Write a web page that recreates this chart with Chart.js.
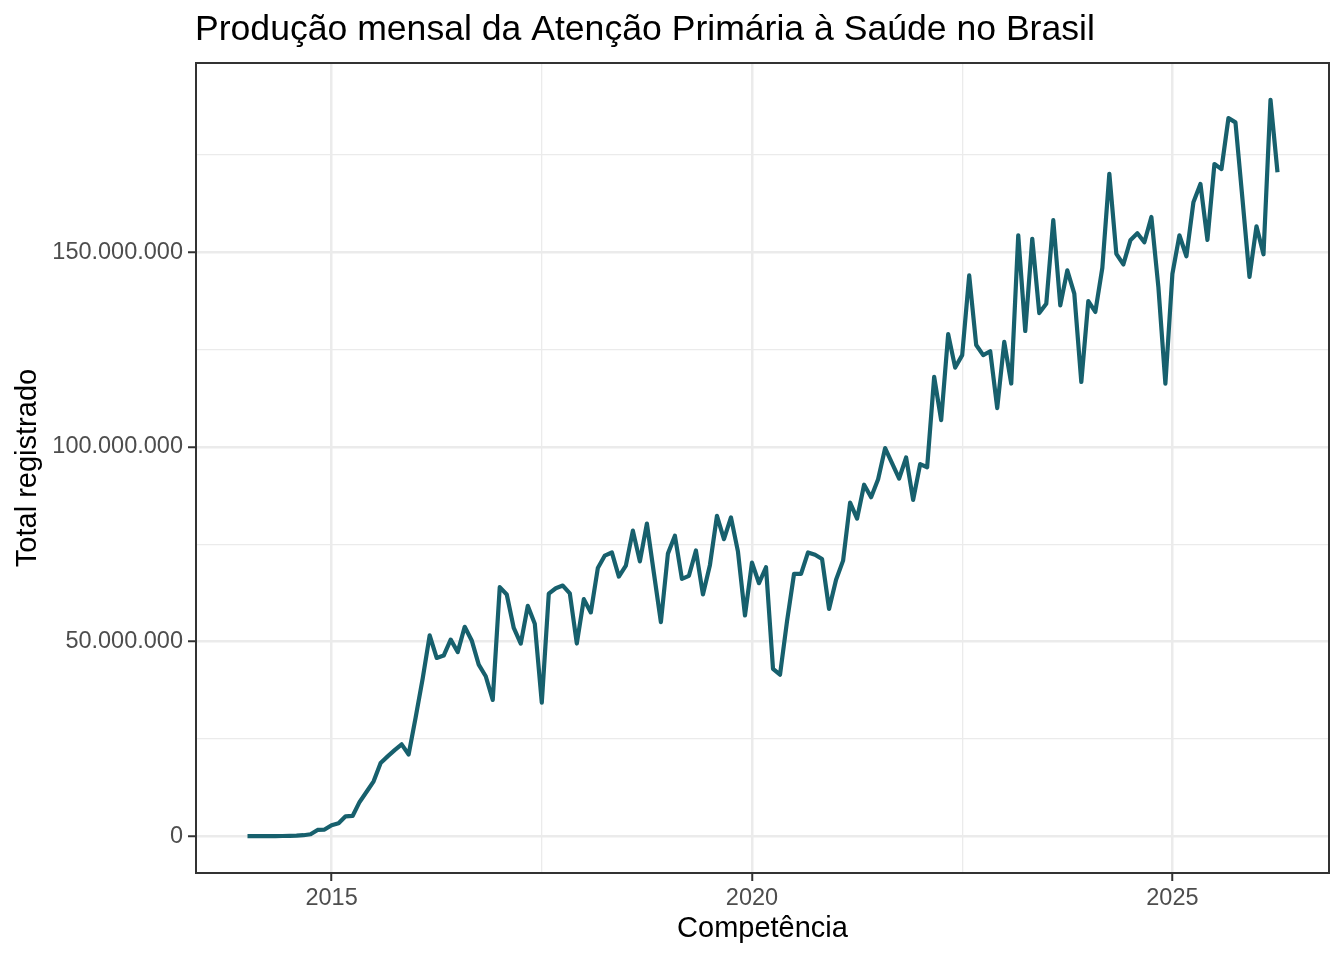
<!DOCTYPE html>
<html>
<head>
<meta charset="utf-8">
<script src="https://cdn.jsdelivr.net/npm/chart.js@4.4.1/dist/chart.umd.min.js"></script>
<style>
  html, body { margin: 0; padding: 0; background: #ffffff; }
  canvas { display: block; }
</style>
</head>
<body>
<canvas id="chart" width="1344" height="960"></canvas>
<script>
// ---------- text ----------
const titleText = 'Produção mensal da Atenção Primária à Saúde no Brasil';
const xAxisTitle = 'Competência';
const yAxisTitle = 'Total registrado';

// ---------- data (monthly totals, in millions) ----------
const startYear = 2014;
const values2014 = [0, 0, 0.01, 0.02, 0.03, 0.05, 0.08, 0.12, 0.25, 0.5, 1.6, 1.7];
const values2015 = [2.8, 3.3, 5.1, 5.2, 8.8, 11.4, 14.1, 18.8, 20.5, 22.1, 23.6, 21.0];
const values2016 = [30.5, 40.5, 51.6, 45.8, 46.4, 50.5, 47.3, 53.8, 50.3, 44.1, 41.1, 35.0];
const values2017 = [64.0, 62.1, 53.5, 49.5, 59.2, 54.6, 34.3, 62.3, 63.7, 64.4, 62.4, 49.5];
const values2018 = [60.9, 57.5, 68.9, 72.1, 72.9, 66.7, 69.5, 78.5, 70.6, 80.3, 67.6, 55.0];
const values2019 = [72.6, 77.2, 66.1, 66.9, 73.4, 62.1, 69.7, 82.3, 76.3, 81.9, 73.1, 56.7];
const values2020 = [70.3, 65.0, 69.1, 43.0, 41.5, 55.2, 67.4, 67.4, 72.9, 72.3, 71.2, 58.4];
const values2021 = [65.9, 70.8, 85.7, 81.6, 90.3, 87.1, 91.7, 99.7, 95.8, 91.9, 97.3, 86.4];
const values2022 = [95.6, 94.8, 118.0, 106.9, 129.0, 120.4, 123.6, 144.1, 126.2, 123.6, 124.6, 110.0];
const values2023 = [127.0, 116.3, 154.4, 129.8, 153.5, 134.4, 136.8, 158.3, 136.4, 145.4, 139.4, 116.7];
const values2024 = [137.5, 134.7, 146.0, 170.2, 149.6, 146.9, 153.1, 154.9, 152.6, 159.1, 141.1, 116.3];
const values2025 = [144.5, 154.4, 149.0, 162.9, 167.6, 153.2, 172.7, 171.4, 184.5, 183.4, 163.7, 143.7];
const values2026 = [156.7, 149.5, 189.2, 170.6];

const monthlyMillions = [].concat(values2014, values2015, values2016, values2017, values2018,
  values2019, values2020, values2021, values2022, values2023, values2024, values2025, values2026);

// categories: competência (YYYY-MM)
const months = monthlyMillions.map((_, i) =>
  `${startYear + Math.floor(i / 12)}-${String(i % 12 + 1).padStart(2, '0')}`);

// ---------- ticks ----------
const xMajorTicks = [2015, 2020, 2025];
const xMinorTicks = [2017.5, 2022.5];
const yMajorTicks = [0, 50, 100, 150];           // millions
const yMinorTicks = [25, 75, 125, 175];
const yTickLabels = ['0', '50.000.000', '100.000.000', '150.000.000'];

// ---------- build ----------
function monthToX(label) {
  const [y, m] = label.split('-').map(Number);
  return y + (m - 1) / 12;
}
const points = months.map((m, i) => ({ x: monthToX(m), y: monthlyMillions[i] }));

const xs = points.map(p => p.x);
const xMinData = Math.min(...xs), xMaxData = Math.max(...xs);
const xPad = (xMaxData - xMinData) * 0.05;
const yMinData = Math.min(...monthlyMillions), yMaxData = Math.max(...monthlyMillions);
const yPad = (yMaxData - yMinData) * 0.05;

const FONT = '"Liberation Sans", Arial, Helvetica, sans-serif';
const GRID = '#EBEBEB';
const DARK = '#333333';
const TICKTXT = '#4D4D4D';

const xMinorSet = new Set(xMinorTicks);
const yMinorSet = new Set(yMinorTicks);

function isMinor(ctx, set) {
  return ctx.tick && set.has(ctx.tick.value);
}

const panelPlugin = {
  id: 'panelDecor',
  afterDraw(chart) {
    const { ctx, chartArea } = chart;
    ctx.save();
    ctx.strokeStyle = DARK;
    ctx.lineWidth = 2;
    ctx.strokeRect(chartArea.left, chartArea.top,
      chartArea.right - chartArea.left, chartArea.bottom - chartArea.top);
    ctx.fillStyle = '#000000';
    ctx.font = `35.6px ${FONT}`;
    ctx.textBaseline = 'alphabetic';
    ctx.textAlign = 'left';
    ctx.fillText(titleText, chartArea.left - 1, 39.5);
    ctx.restore();
  }
};

new Chart(document.getElementById('chart'), {
  type: 'line',
  data: {
    labels: months,
    datasets: [{
      label: yAxisTitle,
      data: points,
      borderColor: '#17606D',
      borderWidth: 4.2,
      pointRadius: 0,
      tension: 0,
      fill: false,
      borderJoinStyle: 'round',
      borderCapStyle: 'butt'
    }]
  },
  options: {
    responsive: false,
    animation: false,
    devicePixelRatio: 1,
    layout: { padding: { top: 63, right: 15, bottom: 0, left: 0 } },
    plugins: {
      legend: { display: false },
      tooltip: { enabled: false },
      title: { display: false }
    },
    scales: {
      x: {
        type: 'linear',
        position: 'bottom',
        min: xMinData - xPad,
        max: xMaxData + xPad,
        afterBuildTicks(scale) {
          scale.ticks = [...xMajorTicks, ...xMinorTicks].sort((a, b) => a - b).map(v => ({ value: v }));
        },
        afterFit(scale) { scale.height = 87; },
        ticks: {
          autoSkip: false,
          maxRotation: 0,
          padding: 3,
          color: TICKTXT,
          font: { family: FONT, size: 23.5 },
          callback: (v) => xMajorTicks.includes(v) ? String(v) : ''
        },
        grid: {
          color: GRID,
          lineWidth: (ctx) => isMinor(ctx, xMinorSet) ? 1.3 : 2.5,
          tickColor: (ctx) => isMinor(ctx, xMinorSet) ? 'rgba(0,0,0,0)' : DARK,
          tickLength: 8,
          tickWidth: 2
        },
        border: { display: false },
        title: {
          display: true,
          text: xAxisTitle,
          color: '#000000',
          font: { family: FONT, size: 29 },
          padding: { top: 0, bottom: 13.6 }
        }
      },
      y: {
        type: 'linear',
        min: yMinData - yPad,
        max: yMaxData + yPad,
        afterBuildTicks(scale) {
          scale.ticks = [...yMajorTicks, ...yMinorTicks].sort((a, b) => a - b).map(v => ({ value: v }));
        },
        afterFit(scale) { scale.width = 196; },
        ticks: {
          autoSkip: false,
          padding: 5,
          color: TICKTXT,
          font: { family: FONT, size: 23.5 },
          callback: (v) => {
            const k = yMajorTicks.indexOf(v);
            return k >= 0 ? yTickLabels[k] : '';
          }
        },
        grid: {
          color: GRID,
          lineWidth: (ctx) => isMinor(ctx, yMinorSet) ? 1.3 : 2.5,
          tickColor: (ctx) => isMinor(ctx, yMinorSet) ? 'rgba(0,0,0,0)' : DARK,
          tickLength: 8,
          tickWidth: 2
        },
        border: { display: false },
        title: {
          display: true,
          text: yAxisTitle,
          color: '#000000',
          font: { family: FONT, size: 29 },
          padding: { top: 10.6, bottom: 0 }
        }
      }
    }
  },
  plugins: [panelPlugin]
});
</script>
</body>
</html>
